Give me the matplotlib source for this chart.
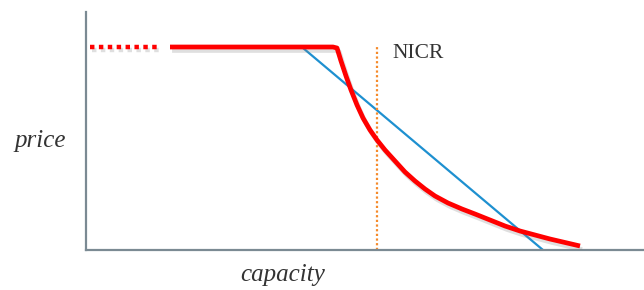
import matplotlib
matplotlib.use('Agg')
from matplotlib import pyplot as plt
import matplotlib.patheffects as pe

# conceptual chart, units are arbitrary
cap_dotted = [4, 72]
price_dotted = [203, 203]

cap_supply = [84, 247, 251, 255, 260, 265, 271, 277, 284, 291, 299, 309, 319, 329,
              339, 349, 362, 376, 389, 404, 419, 434, 464, 494]
price_supply = [203, 203, 202, 189, 174, 160, 145, 132, 120, 110, 100, 89, 78, 69,
                61, 54, 47, 41, 36, 30, 24, 19, 11, 4]

cap_demand = [217, 457]
price_demand = [202, 0]

nicr_cap = 291
nicr_top = 203

RED = '#ff0000'
BLUE = '#1e90d0'
ORANGE = '#f58a2a'
AXIS = '#7b8a93'
TEXT = '#333333'

fig = plt.figure(figsize=(6.44, 2.90), dpi=100)
ax = fig.add_axes([86 / 644, 40 / 290, 558 / 644, 238 / 290])
ax.set_xlim(0, 558)
ax.set_ylim(0, 238)

shadow = [pe.SimpleLineShadow(offset=(1.5, -2.5), shadow_color='gray', alpha=0.25), pe.Normal()]

ax.plot(cap_demand, price_demand, color=BLUE, lw=1.6, solid_capstyle='butt', zorder=2)
ax.plot([nicr_cap, nicr_cap], [0, nicr_top], color=ORANGE, lw=1.6,
        linestyle=(0, (1, 1.1)), zorder=2)
ax.plot(cap_dotted, price_dotted, color=RED, lw=3.2, linestyle=(0, (1, 1)),
        dash_capstyle='butt', zorder=3, path_effects=shadow)
ax.plot(cap_supply, price_supply, color=RED, lw=3.4, solid_capstyle='butt',
        solid_joinstyle='round', zorder=3, path_effects=shadow)

ax.text(306, 197, 'NICR', fontsize=15.5, family='Liberation Serif', color=TEXT,
        va='center', ha='left')

for side in ['top', 'right']:
    ax.spines[side].set_visible(False)
for side in ['left', 'bottom']:
    ax.spines[side].set_color(AXIS)
    ax.spines[side].set_linewidth(1.6)
ax.set_xticks([])
ax.set_yticks([])

fig.text(40 / 644, 1 - 141 / 290, 'price', fontsize=18, family='Liberation Serif',
         style='italic', color=TEXT, ha='center', va='center')
fig.text(283 / 644, 1 - 275 / 290, 'capacity', fontsize=18, family='Liberation Serif',
         style='italic', color=TEXT, ha='center', va='center')

fig.savefig('out.png', dpi=100)
